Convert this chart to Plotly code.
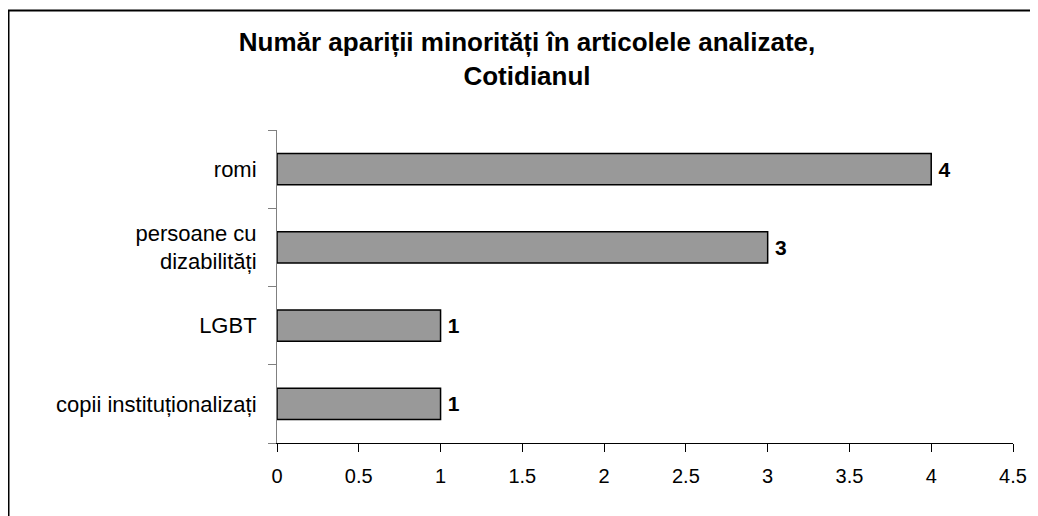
import plotly.graph_objects as go

# data, bottom to top as drawn
categories = ["copii instituționalizați", "LGBT", "persoane cu<br>dizabilități", "romi"]
counts = [1, 1, 3, 4]
x_ticks = [0, 0.5, 1, 1.5, 2, 2.5, 3, 3.5, 4, 4.5]
x_tick_labels = ["0", "0.5", "1", "1.5", "2", "2.5", "3", "3.5", "4", "4.5"]

# the page body keeps its default 8px margin, so the figure is 8px smaller
# and all pixel positions below are page positions minus 8
OFF = 8
W, H = 1038 - OFF, 516 - OFF
L, R, T, B = 277 - OFF, 25, 130 - OFF, 73
PW, PH = W - L - R, H - T - B
FONT = "Arial, Liberation Sans, sans-serif"


def px_to_paper_x(px):
    return (px - L) / PW


def px_to_paper_y(py):
    return (H - B - py) / PH


fig = go.Figure(
    go.Bar(
        y=categories,
        x=counts,
        orientation="h",
        width=0.4,
        marker=dict(color="#999999", line=dict(color="black", width=1.5)),
        text=["\u2009" + str(v) for v in counts],
        textposition="outside",
        textfont=dict(family=FONT, size=21, color="black", weight="bold"),
        cliponaxis=False,
        hoverinfo="skip",
    )
)

fig.update_xaxes(
    range=[0, 4.5],
    tickvals=x_ticks,
    ticktext=x_tick_labels,
    showgrid=False,
    zeroline=False,
    showline=True,
    linecolor="black",
    linewidth=1,
    ticks="outside",
    ticklen=8,
    tickcolor="black",
    tickfont=dict(family=FONT, size=20, color="black"),
    ticklabelstandoff=7,
)
fig.update_yaxes(
    type="category",
    range=[-0.5, 3.5],
    tickson="boundaries",
    showgrid=False,
    showline=True,
    linecolor="#808080",
    linewidth=1,
    ticks="outside",
    ticklen=8,
    tickcolor="#808080",
    tickfont=dict(family=FONT, size=22, color="black"),
    ticklabelstandoff=15,
)

frame_left = px_to_paper_x(0)
frame_top = px_to_paper_y(2.5)

fig.update_layout(
    width=W,
    height=H,
    margin=dict(l=L, r=R, t=T, b=B, autoexpand=False),
    plot_bgcolor="white",
    paper_bgcolor="white",
    showlegend=False,
    bargap=0.6,
    title=dict(
        text="Număr apariții minorități în articolele analizate,<br>Cotidianul",
        x=(527 - OFF) / W,
        xanchor="center",
        y=1 - (51 - OFF) / H,
        yanchor="middle",
        font=dict(family=FONT, size=26, color="black", weight="bold"),
    ),
    shapes=[
        # outer chart frame: left and top edges
        dict(type="line", xref="paper", yref="paper",
             x0=frame_left, x1=frame_left,
             y0=px_to_paper_y(H + 20), y1=frame_top,
             line=dict(color="black", width=3), layer="above"),
        dict(type="line", xref="paper", yref="paper",
             x0=frame_left, x1=px_to_paper_x(W + 20),
             y0=frame_top, y1=frame_top,
             line=dict(color="black", width=2), layer="above"),
    ],
)

fig.write_html("out.html", config={"displayModeBar": False})
